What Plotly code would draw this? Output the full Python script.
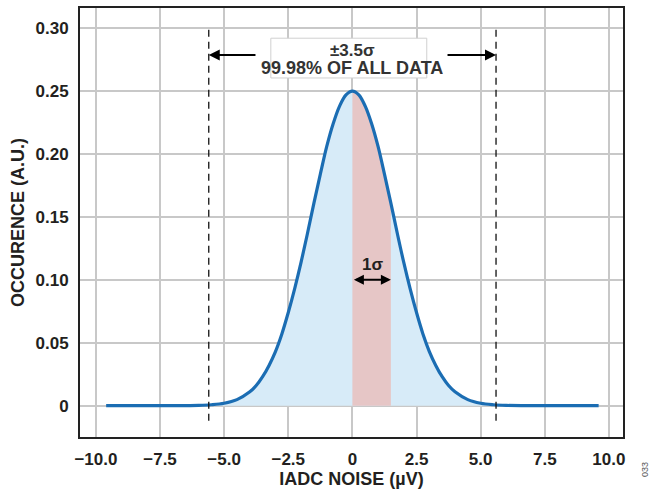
import plotly.graph_objects as go

# Noise distribution (µV, arbitrary units)
noise_uv = [-9.6, -7.0, -6.0, -5.5, -5.0, -4.5, -4.0, -3.75, -3.5, -3.25, -3.0, -2.75, -2.5,
            -2.25, -2.0, -1.75, -1.5, -1.25, -1.0, -0.75, -0.5, -0.25, 0.0,
            0.25, 0.5, 0.75, 1.0, 1.25, 1.5, 1.75, 2.0, 2.25, 2.5, 2.75, 3.0,
            3.25, 3.5, 3.75, 4.0, 4.5, 5.0, 5.5, 6.0, 7.0, 9.6]
occurrence = [0.0, 0.0, 0.0002, 0.0007, 0.0019, 0.0048, 0.011, 0.016, 0.023, 0.032, 0.043, 0.057, 0.074,
              0.093, 0.114, 0.137, 0.161, 0.184, 0.206, 0.224, 0.238, 0.247, 0.250,
              0.247, 0.238, 0.224, 0.206, 0.184, 0.161, 0.137, 0.114, 0.093, 0.074, 0.057, 0.043,
              0.032, 0.023, 0.016, 0.011, 0.0048, 0.0019, 0.0007, 0.0002, 0.0, 0.0]

sigma = 1.5
bound = 5.6
x_ticks = [-10.0, -7.5, -5.0, -2.5, 0.0, 2.5, 5.0, 7.5, 10.0]
x_ticktext = ["\u221210.0", "\u22127.5", "\u22125.0", "\u22122.5", "0", "2.5", "5.0", "7.5", "10.0"]
y_ticks = [0, 0.05, 0.10, 0.15, 0.20, 0.25, 0.30]
y_ticktext = ["0", "0.05", "0.10", "0.15", "0.20", "0.25", "0.30"]

FONT = "Arial, 'Liberation Sans', sans-serif"
TXT = "#231f20"

fig = go.Figure()

# light blue fill under whole curve
fig.add_trace(go.Scatter(x=noise_uv, y=occurrence, mode="lines", line=dict(width=0, shape="spline"),
                         fill="tozeroy", fillcolor="#d7ebf8", hoverinfo="skip", showlegend=False))

# 1 sigma red fill
sx = [x for x in noise_uv if 0 <= x <= sigma + 1e-9]
sy = [y for x, y in zip(noise_uv, occurrence) if 0 <= x <= sigma + 1e-9]
fig.add_trace(go.Scatter(x=sx, y=sy, mode="lines", line=dict(width=0, shape="spline"),
                         fill="tozeroy", fillcolor="#e6c6c6", hoverinfo="skip", showlegend=False))

# curve
fig.add_trace(go.Scatter(x=noise_uv, y=occurrence, mode="lines",
                         line=dict(color="#1b6db3", width=3.2, shape="spline"), showlegend=False))

# dashed bounds
for xb in (-bound, bound):
    fig.add_shape(type="line", x0=xb, x1=xb, y0=-0.012, y1=0.300, xref="x", yref="y",
                  line=dict(color="#111111", width=1.3, dash="7px,5px"))

# arrows
arrow_y = 0.2786
fig.add_annotation(x=-bound, y=arrow_y, ax=-3.72, ay=arrow_y, axref="x", ayref="y", xref="x", yref="y",
                   text="", showarrow=True, arrowhead=2, arrowsize=1.1, arrowwidth=2, arrowcolor="#000000")
fig.add_annotation(x=bound, y=arrow_y, ax=3.65, ay=arrow_y, axref="x", ayref="y", xref="x", yref="y",
                   text="", showarrow=True, arrowhead=2, arrowsize=1.1, arrowwidth=2, arrowcolor="#000000")

# text box
fig.add_shape(type="rect", x0=-3.18, x1=2.90, y0=0.2604, y1=0.2920, xref="x", yref="y",
              fillcolor="white", line=dict(color="#d0d0d0", width=1), layer="above")
fig.add_annotation(x=0.0, y=0.2830, xref="x", yref="y", showarrow=False, height=16,
                   text="<b>\u00b13.5\u03c3</b>", font=dict(family=FONT, size=17, color="#333333"))
fig.add_annotation(x=0.0, y=0.2684, xref="x", yref="y", showarrow=False, height=16,
                   text="<b>99.98% OF ALL DATA</b>", font=dict(family=FONT, size=18, color="#333333"))

# 1 sigma arrow
fig.add_annotation(x=sigma, y=0.10, ax=0, ay=0.10, axref="x", ayref="y", xref="x", yref="y",
                   text="", showarrow=True, arrowhead=2, arrowside="end+start", arrowsize=1.0,
                   arrowwidth=2, arrowcolor="#000000")
fig.add_annotation(x=0.78, y=0.1125, xref="x", yref="y", showarrow=False,
                   text="<b>1\u03c3</b>", font=dict(family=FONT, size=17, color=TXT))

# figure id
fig.add_annotation(x=1.0, y=0.0, xref="paper", yref="paper", xanchor="center", yanchor="middle",
                   xshift=22, yshift=-33, showarrow=False, textangle=-90, text="033",
                   font=dict(family=FONT, size=9, color="#555555"))

tickfont = dict(family=FONT, size=17, color=TXT, weight="bold")
axis_common = dict(showgrid=True, gridcolor="#c8c8c8", gridwidth=2, zeroline=False,
                   showline=True, linecolor="#222222", linewidth=2, mirror=True, ticks="",
                   tickfont=tickfont, automargin=False)

fig.update_xaxes(range=[-10.62, 10.55], tickvals=x_ticks, ticktext=x_ticktext, ticklabelstandoff=6,
                 title=dict(text="<b>IADC NOISE (\u00b5V)</b>", font=dict(family=FONT, size=18, color=TXT), standoff=3),
                 **axis_common)
fig.update_yaxes(range=[-0.0249, 0.316], tickvals=y_ticks, ticktext=y_ticktext, ticklabelstandoff=6,
                 title=dict(text="<b>OCCURENCE (A.U.)</b>", font=dict(family=FONT, size=18, color=TXT), standoff=6),
                 **axis_common)
fig.update_layout(width=654, height=495, margin=dict(l=80, r=31, t=8, b=58),
                  plot_bgcolor="white", paper_bgcolor="white",
                  font=dict(family=FONT, color=TXT))
fig.write_html("out.html")
